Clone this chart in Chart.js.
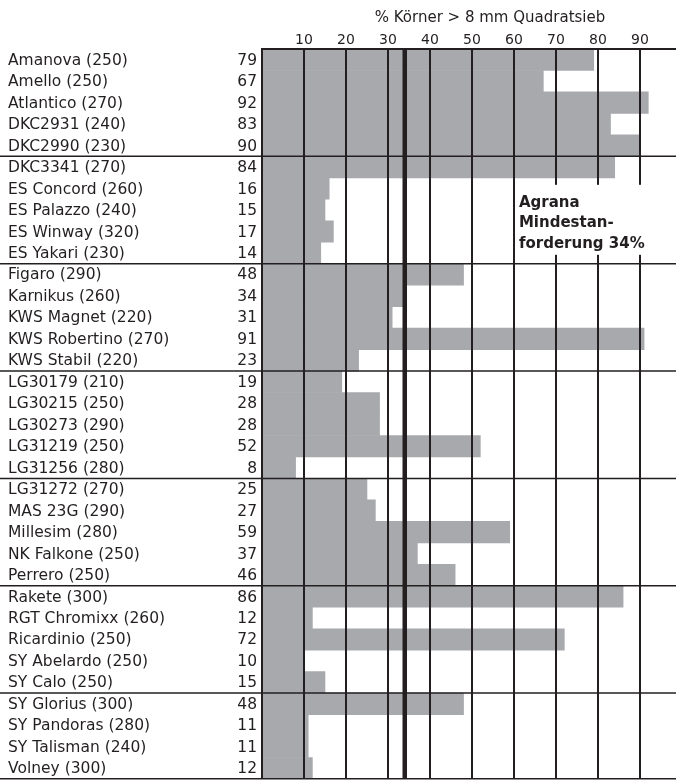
<!DOCTYPE html>
<html>
<head>
<meta charset="utf-8">
<script src="https://cdn.jsdelivr.net/npm/chart.js@4"></script>
<style>
  html, body { margin: 0; padding: 0; background: #fff; }
  #wrap { width: 676px; height: 780px; }
</style>
</head>
<body>
<div id="wrap"><canvas id="chart" width="676" height="780"></canvas></div>
<script>
// Data
const varieties = [
  'Amanova (250)', 'Amello (250)', 'Atlantico (270)', 'DKC2931 (240)', 'DKC2990 (230)',
  'DKC3341 (270)', 'ES Concord (260)', 'ES Palazzo (240)', 'ES Winway (320)', 'ES Yakari (230)',
  'Figaro (290)', 'Karnikus (260)', 'KWS Magnet (220)', 'KWS Robertino (270)', 'KWS Stabil (220)',
  'LG30179 (210)', 'LG30215 (250)', 'LG30273 (290)', 'LG31219 (250)', 'LG31256 (280)',
  'LG31272 (270)', 'MAS 23G (290)', 'Millesim (280)', 'NK Falkone (250)', 'Perrero (250)',
  'Rakete (300)', 'RGT Chromixx (260)', 'Ricardinio (250)', 'SY Abelardo (250)', 'SY Calo (250)',
  'SY Glorius (300)', 'SY Pandoras (280)', 'SY Talisman (240)', 'Volney (300)'
];
const kornerPct = [
  79, 67, 92, 83, 90,
  84, 16, 15, 17, 14,
  48, 34, 31, 91, 23,
  19, 28, 28, 52, 8,
  25, 27, 59, 37, 46,
  86, 12, 72, 10, 15,
  48, 11, 11, 12
];
const xTicks = [0, 10, 20, 30, 40, 50, 60, 70, 80, 90];
const minRequirement = 34;
const axisTitle = '% Körner > 8 mm Quadratsieb';
const noteLines = ['Agrana', 'Mindestan-', 'forderung 34%'];
const groupSize = 5;

const ink = '#231f20';
const barGray = '#a7a9ac';
const font = '"DejaVu Sans", Verdana, sans-serif';

// Labels, separators, 34% line and note
const overlay = {
  id: 'overlay',
  afterDraw(chart) {
    const { ctx, chartArea: area, scales: { x, y } } = chart;
    const band = y.getPixelForValue(1) - y.getPixelForValue(0);
    ctx.save();

    // minimum requirement line
    const xm = x.getPixelForValue(minRequirement);
    ctx.strokeStyle = ink;
    ctx.lineWidth = 4.5;
    ctx.beginPath();
    ctx.moveTo(xm, area.top);
    ctx.lineTo(xm, area.bottom);
    ctx.stroke();

    // group separators + bottom line
    ctx.lineWidth = 1.5;
    for (let i = groupSize; i <= varieties.length; i += groupSize) {
      const yy = Math.min(y.getPixelForValue(i - 1) + band / 2, area.bottom - 0.75);
      ctx.beginPath();
      ctx.moveTo(0, yy);
      ctx.lineTo(chart.width, yy);
      ctx.stroke();
    }
    const yb = area.bottom - 0.25;
    ctx.beginPath();
    ctx.moveTo(0, yb);
    ctx.lineTo(chart.width, yb);
    ctx.stroke();

    // category labels and values
    ctx.fillStyle = ink;
    ctx.font = '15.5px ' + font;
    ctx.textBaseline = 'middle';
    varieties.forEach((name, i) => {
      const yy = y.getPixelForValue(i) + 1;
      ctx.textAlign = 'left';
      ctx.fillText(name, 8, yy);
      ctx.textAlign = 'right';
      ctx.fillText(String(kornerPct[i]), 257, yy);
    });

    // axis title
    ctx.textAlign = 'center';
    ctx.font = '15px ' + font;
    ctx.fillText(axisTitle, 490, 18);

    // note box
    const bx = x.getPixelForValue(60) + 2;
    const by = y.getPixelForValue(6) - band / 2 + 7;
    ctx.fillStyle = '#fff';
    ctx.fillRect(bx, by, 144, 70);
    ctx.fillStyle = ink;
    ctx.font = 'bold 15px ' + font;
    ctx.textAlign = 'left';
    noteLines.forEach((t, i) => ctx.fillText(t, bx + 3, by + 18 + i * 20.5));

    ctx.restore();
  }
};

new Chart(document.getElementById('chart'), {
  type: 'bar',
  data: {
    labels: varieties,
    datasets: [{
      data: kornerPct,
      backgroundColor: barGray,
      borderWidth: 0,
      categoryPercentage: 1,
      barPercentage: 1
    }]
  },
  options: {
    indexAxis: 'y',
    responsive: false,
    animation: false,
    layout: { padding: { left: 262, right: 0, bottom: 1, top: 0 } },
    plugins: { legend: { display: false }, tooltip: { enabled: false } },
    scales: {
      x: {
        position: 'top',
        min: 0,
        max: 98.6,
        afterBuildTicks: s => { s.ticks = xTicks.map(v => ({ value: v })); },
        afterFit: s => { s.height = 49; },
        ticks: {
          color: ink,
          font: { family: font, size: 14 },
          padding: 0,
          callback: v => (v === 0 ? '' : v)
        },
        grid: { color: ink, lineWidth: 2, drawTicks: false, z: 1 },
        border: { display: true, color: ink, width: 2, z: 1 }
      },
      y: {
        display: false,
        grid: { display: false }
      }
    }
  },
  plugins: [overlay]
});
</script>
</body>
</html>
